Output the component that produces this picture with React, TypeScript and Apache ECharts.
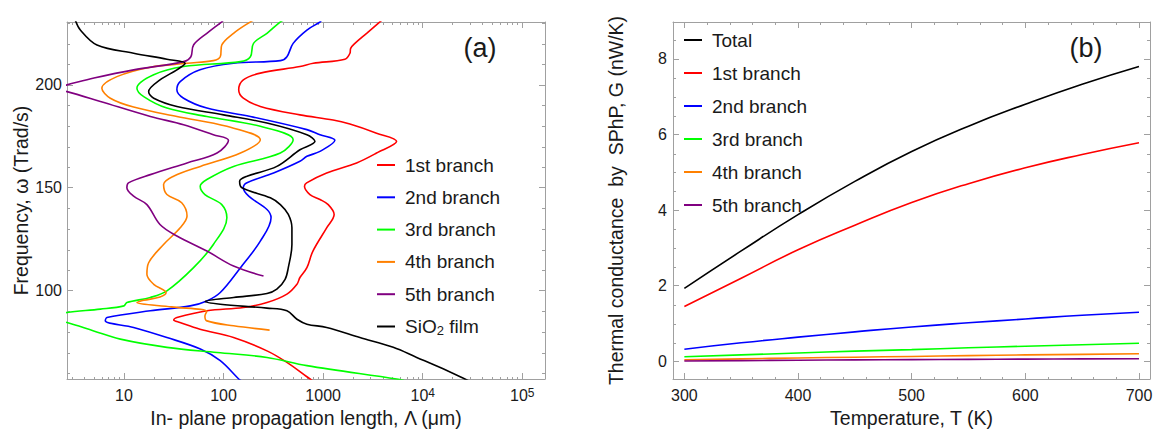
import React, { useEffect, useRef } from "react";
import * as echarts from "echarts";

// ---------- Panel (a): [propagation length Λ (μm), frequency ω (Trad/s)] ----------
const branch1A: [number, number][] = [
  [3900, 231.5], [3717, 230.7], [2735, 225.1], [2085, 220.2], [1890, 217.8], [1860, 215.4],
  [1655, 212.5], [795, 210.5], [585, 208.9], [234, 205.7], [158, 202.4], [142, 197.6],
  [158, 193.5], [234, 189.5], [585, 185.4], [1260, 182.9], [1857, 180.9], [3440, 176.5],
  [5470, 172.5], [3440, 166.8], [2170, 162], [1085, 157.1], [683, 152.3], [650, 150.6],
  [737, 146.6], [930, 144.2], [1125, 141.7], [1290, 136.9], [1085, 130.4], [790, 119.1],
  [687, 111], [585, 106.2], [546, 102.9], [433, 98.1], [273, 94], [158, 91.6], [68, 90],
  [34, 86.7], [31.6, 85.5], [36.5, 84.3], [58, 81], [126, 77], [273, 70.5], [433, 64.9],
  [687, 57.9], [780, 56],
];
const branch2A: [number, number][] = [
  [960, 231.5], [930, 230.6], [687, 226.7], [500, 220.2], [433, 213.7], [372, 211.8],
  [126, 210.5], [58, 207.3], [36.7, 201.6], [34, 197.6], [39.7, 193.5], [68, 188.7],
  [186, 184.6], [687, 178.2], [930, 175.7], [1312, 173], [930, 167.6], [687, 165.2],
  [585, 162.8], [318, 157.1], [172, 152.3], [158, 149.9], [179, 145.8], [273, 139.3],
  [300, 135.3], [234, 123.9], [148, 111], [92.7, 98.9], [68, 94.8], [46.3, 92.4],
  [18.4, 90], [6.75, 86.7], [6.5, 85.1], [12.5, 81.9], [27, 77], [58.5, 71.4],
  [92.7, 65.7], [142, 56.8], [150, 56],
];
const branch3A: [number, number][] = [
  [400, 231.5], [372, 230.7], [273, 225.1], [200, 220.2], [186, 213.7], [148, 211.3],
  [39.7, 208.9], [19.9, 204.9], [13.5, 198.4], [15.8, 194.3], [27, 188.7], [68, 184.6],
  [234, 179.8], [500, 173.3], [372, 166.8], [126, 160.3], [68, 153.9], [58.3, 150.6],
  [65, 146.6], [96, 141.7], [108, 135.3], [79, 122.3], [50, 111], [27, 99.7], [18.4, 96.5],
  [10.7, 94], [10, 92.4], [5.8, 90.8], [2.68, 89.2], [1.5, 87], [2.68, 84.3], [4.97, 80.2],
  [9.2, 76.2], [27, 72.2], [86, 69.7], [273, 67.3], [687, 63.3], [5470, 56.8], [6500, 56],
];
const branch4A: [number, number][] = [
  [200, 231.5], [186, 230.7], [126, 225.1], [96, 219.4], [92.7, 213.7], [79, 211.8],
  [43, 210.5], [18.4, 208.6], [8.5, 204], [6.0, 198.4], [7.3, 193.5], [12.5, 189.2],
  [34, 184.6], [108, 179.8], [234, 173.3], [148, 166.8], [58.5, 160.3], [31.5, 155.5],
  [25, 151.5], [27, 146.6], [38, 142.6], [43, 136.1], [36.7, 130.4], [25, 122.3],
  [17.7, 113.4], [17, 107.8], [19.9, 102.9], [26.5, 98.9], [23, 96.7], [15.8, 95.1],
  [13.5, 94], [30, 91.9], [68, 89.7], [65, 87.5], [68, 85.1], [126, 82.7], [290, 80.6],
];
const branch5A: [number, number][] = [
  [100, 231.5], [96, 230.7], [68, 225.1], [50, 219.4], [47, 213.7], [39.7, 211.3],
  [12.5, 207.3], [5, 203.3], [2.68, 200], [1.9, 198.3], [2.68, 196.7], [5.8, 191.9],
  [18.4, 184.6], [39.7, 180.6], [79, 175.7], [112, 173], [86, 166.8], [43, 162],
  [18.4, 156.3], [11.1, 152.3], [10.7, 149.9], [12.5, 145.8], [17, 141.7], [23, 132],
  [34, 126.4], [68, 119.1], [126, 111.8], [252, 106.9],
];
const sio2FilmA: [number, number][] = [
  [3.24, 231.6], [3.65, 226.7], [5.36, 219.4], [12.5, 215.4], [27, 212.5], [41.2, 210.5],
  [34, 207.3], [23, 202.4], [17.7, 196.7], [19.9, 193.5], [34, 189.5], [100, 185.4],
  [273, 181.4], [687, 175.7], [828, 172.5], [585, 168.4], [343, 160.3], [172, 155.5],
  [145, 153.1], [153, 149.9], [295, 145], [372, 141.7], [447, 136.9], [486, 130.4],
  [486, 122.3], [447, 111], [415, 105.3], [343, 100.5], [273, 98.4], [126, 96.5],
  [65.5, 94.5], [92.7, 93.2], [273, 91.3], [433, 90], [546, 85.9], [687, 83.5],
  [1085, 81.9], [2340, 77], [5060, 72.2], [8700, 67.3], [14800, 62.5], [26500, 56.8],
  [30000, 55.5],
];
const xMajorA = [10, 100, 1000, 10000, 100000];
const xMinorA = [
  3, 4, 5, 6, 7, 8, 9, 20, 30, 40, 50, 60, 70, 80, 90, 200, 300, 400, 500, 600, 700, 800, 900,
  2000, 3000, 4000, 5000, 6000, 7000, 8000, 9000, 20000, 30000, 40000, 50000, 60000, 70000,
  80000, 90000,
];
const yMajorA = [100, 150, 200];
const yMinorA = [60, 70, 80, 90, 110, 120, 130, 140, 160, 170, 180, 190, 210, 220, 230];

// ---------- Panel (b): thermal conductance G (nW/K) vs temperature T (K) ----------
const temperatures = [300, 350, 400, 450, 500, 550, 600, 650, 700];
const totalB = [1.93, 2.92, 3.88, 4.76, 5.55, 6.22, 6.8, 7.33, 7.8];
const branch1B = [1.45, 2.2, 2.95, 3.6, 4.2, 4.7, 5.12, 5.47, 5.78];
const branch2B = [0.32, 0.49, 0.64, 0.78, 0.91, 1.02, 1.12, 1.22, 1.3];
const branch3B = [0.12, 0.17, 0.22, 0.27, 0.31, 0.36, 0.4, 0.44, 0.48];
const branch4B = [0.04, 0.065, 0.09, 0.11, 0.13, 0.15, 0.17, 0.185, 0.2];
const branch5B = [0.01, 0.02, 0.03, 0.038, 0.045, 0.052, 0.06, 0.065, 0.07];
const xMajorB = [300, 400, 500, 600, 700];
const xMinorB = [320, 340, 360, 380, 420, 440, 460, 480, 520, 540, 560, 580, 620, 640, 660, 680];
const yMajorB = [0, 2, 4, 6, 8];
const yMinorB = [0.5, 1, 1.5, 2.5, 3, 3.5, 4.5, 5, 5.5, 6.5, 7, 7.5, 8.5];

const legendA = ["1st branch", "2nd branch", "3rd branch", "4th branch", "5th branch", "SiO2 film"];
const legendB = ["Total", "1st branch", "2nd branch", "3rd branch", "4th branch", "5th branch"];

const FONT = '"Liberation Sans", Arial, sans-serif';
const FRAME = "#a0a0a0";
const TXT = "#1a1a1a";
const RED = "#ff0000";
const BLUE = "#0000ff";
const GREEN = "#00ff00";
const ORANGE = "#ff8000";
const PURPLE = "#800080";
const BLACK = "#000000";

const A = { xMin: 2.68, xMax: 169000, yMin: 56.8, yMax: 230.6 };
const B = { xMin: 290, xMax: 709.7, yMin: -0.467, yMax: 8.976 };

const TICK_FONT = 16;
const NAME_FONT = 19.5;

type LabelCfg = { values: number[]; margin: number; formatter?: any; rich?: any };
type NameCfg = { name: string; gap: number };

function makeAxis(
  gridIndex: number,
  position: string,
  type: string,
  min: number,
  max: number,
  ticks: number[],
  len: number,
  line: boolean,
  label?: LabelCfg,
  name?: NameCfg
) {
  const ax: any = {
    gridIndex,
    position,
    type,
    min,
    max,
    axisLine: { show: line, onZero: false, lineStyle: { color: FRAME, width: 1 } },
    axisTick: {
      show: true,
      inside: true,
      length: len,
      customValues: ticks,
      lineStyle: { color: FRAME, width: 1 },
    },
    axisLabel: label
      ? {
          show: true,
          customValues: label.values,
          formatter: label.formatter,
          margin: label.margin,
          fontSize: TICK_FONT,
          color: TXT,
          fontFamily: FONT,
          rich: label.rich,
        }
      : { show: false },
    splitLine: { show: false },
    minorTick: { show: false },
    minorSplitLine: { show: false },
  };
  if (type === "log") ax.logBase = 10;
  if (name) {
    ax.name = name.name;
    ax.nameLocation = "middle";
    ax.nameGap = name.gap;
    ax.nameTextStyle = { fontSize: NAME_FONT, color: TXT, fontFamily: FONT };
  }
  return ax;
}

function line(name: string, data: any[], color: string, axisIndex: number, smooth: number | boolean) {
  return {
    type: "line",
    name,
    data,
    xAxisIndex: axisIndex,
    yAxisIndex: axisIndex,
    showSymbol: false,
    symbol: "none",
    smooth,
    color,
    lineStyle: { color, width: 1.6 },
    itemStyle: { color },
    clip: true,
    silent: true,
  };
}

const logFormatter = (v: number) => {
  const e = Math.round(Math.log10(v));
  return e >= 4 ? `10{sup|${e}}` : String(Math.round(v));
};

const legendText = {
  fontSize: 19,
  fontFamily: FONT,
  color: TXT,
  lineHeight: 20,
  padding: [0, 0, 0, 5],
  rich: {
    sub: { fontSize: 13, lineHeight: 20, verticalAlign: "bottom", fontFamily: FONT, color: TXT },
  },
};

export default function App() {
  const ref = useRef<HTMLDivElement>(null);
  useEffect(() => {
    document.body.style.margin = "0";
    const chart = echarts.init(ref.current!, null, { renderer: "svg" });
    const pairs = (ys: number[]) => temperatures.map((t, i) => [t, ys[i]]);
    const option: any = {
      animation: false,
      backgroundColor: "#ffffff",
      grid: [
        { left: 67, top: 22, width: 478, height: 358 },
        { left: 67, top: 22, width: 478, height: 358 },
        { left: 673, top: 22, width: 477, height: 358 },
        { left: 673, top: 22, width: 477, height: 358 },
      ],
      xAxis: [
        makeAxis(0, "bottom", "log", A.xMin, A.xMax, xMajorA, 6, true,
          { values: xMajorA, margin: 8, formatter: logFormatter,
            rich: { sup: { fontSize: 12, verticalAlign: "top", fontFamily: FONT, color: TXT } } },
          { name: "In- plane propagation length, Λ (μm)", gap: 29 }),
        makeAxis(0, "top", "log", A.xMin, A.xMax, xMajorA, 6, true),
        makeAxis(1, "bottom", "log", A.xMin, A.xMax, xMinorA, 3, false),
        makeAxis(1, "top", "log", A.xMin, A.xMax, xMinorA, 3, false),
        makeAxis(2, "bottom", "value", B.xMin, B.xMax, xMajorB, 6, true,
          { values: xMajorB, margin: 8 },
          { name: "Temperature, T (K)", gap: 29 }),
        makeAxis(2, "top", "value", B.xMin, B.xMax, xMajorB, 6, true),
        makeAxis(3, "bottom", "value", B.xMin, B.xMax, xMinorB, 3, false),
        makeAxis(3, "top", "value", B.xMin, B.xMax, xMinorB, 3, false),
      ],
      yAxis: [
        makeAxis(0, "left", "value", A.yMin, A.yMax, yMajorA, 6, true,
          { values: yMajorA, margin: 5 },
          { name: "Frequency, ω (Trad/s)", gap: 36 }),
        makeAxis(0, "right", "value", A.yMin, A.yMax, yMajorA, 6, true),
        makeAxis(1, "left", "value", A.yMin, A.yMax, yMinorA, 3, false),
        makeAxis(1, "right", "value", A.yMin, A.yMax, yMinorA, 3, false),
        makeAxis(2, "left", "value", B.yMin, B.yMax, yMajorB, 6, true,
          { values: yMajorB, margin: 6 },
          { name: "Thermal conductance  by  SPhP, G (nW/K)", gap: 47 }),
        makeAxis(2, "right", "value", B.yMin, B.yMax, yMajorB, 6, true),
        makeAxis(3, "left", "value", B.yMin, B.yMax, yMinorB, 3, false),
        makeAxis(3, "right", "value", B.yMin, B.yMax, yMinorB, 3, false),
      ],
      legend: [
        {
          data: legendA,
          orient: "vertical",
          left: 377,
          top: 155,
          padding: 0,
          itemWidth: 18,
          itemHeight: 2,
          icon: "rect",
          itemGap: 12.3,
          selectedMode: false,
          textStyle: legendText,
          formatter: (n: string) => (n === "SiO2 film" ? "SiO{sub|2} film" : n),
        },
        {
          data: legendB,
          orient: "vertical",
          left: 684,
          top: 30,
          padding: 0,
          itemWidth: 18,
          itemHeight: 2,
          icon: "rect",
          itemGap: 13,
          selectedMode: false,
          textStyle: legendText,
        },
      ],
      graphic: [
        {
          type: "text",
          x: 480,
          y: 48,
          style: { text: "(a)", fontSize: 27, fontFamily: FONT, fill: TXT, align: "center", verticalAlign: "middle" },
        },
        {
          type: "text",
          x: 1086,
          y: 48,
          style: { text: "(b)", fontSize: 27, fontFamily: FONT, fill: TXT, align: "center", verticalAlign: "middle" },
        },
      ],
      series: [
        line("1st branch", branch1A, RED, 0, 0.35),
        line("2nd branch", branch2A, BLUE, 0, 0.35),
        line("3rd branch", branch3A, GREEN, 0, 0.35),
        line("4th branch", branch4A, ORANGE, 0, 0.35),
        line("5th branch", branch5A, PURPLE, 0, 0.35),
        line("SiO2 film", sio2FilmA, BLACK, 0, 0.35),
        line("Total", pairs(totalB), BLACK, 4, true),
        line("1st branch", pairs(branch1B), RED, 4, true),
        line("2nd branch", pairs(branch2B), BLUE, 4, true),
        line("3rd branch", pairs(branch3B), GREEN, 4, true),
        line("4th branch", pairs(branch4B), ORANGE, 4, true),
        line("5th branch", pairs(branch5B), PURPLE, 4, true),
      ],
    };
    chart.setOption(option);
    return () => chart.dispose();
  }, []);
  return <div ref={ref} style={{ width: 1158, height: 433 }} />;
}
